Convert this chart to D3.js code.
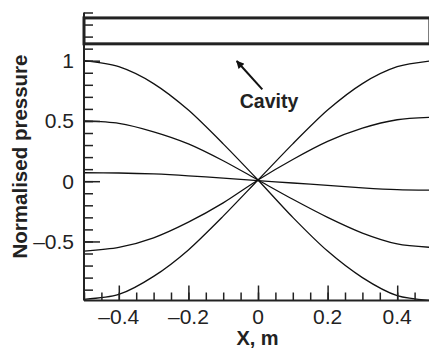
<!DOCTYPE html>
<html>
<head>
<meta charset="utf-8">
<script src="https://cdn.jsdelivr.net/npm/d3@7/dist/d3.min.js"></script>
<style>
html,body{margin:0;padding:0;background:#fff;}
svg{display:block;font-family:"Liberation Sans",Arial,Helvetica,sans-serif;}
</style>
</head>
<body>
<svg id="chart" width="429" height="349"></svg>
<script>
// ---- data ----
const xSamples = [-0.5, -0.4, -0.3, -0.2, -0.1, 0.0, 0.1, 0.2, 0.3, 0.4, 0.5];
const curveA = [1.00, 0.95, 0.81, 0.59, 0.31, 0.01, -0.30, -0.58, -0.80, -0.95, -0.99];
const curveB = [0.50, 0.48, 0.41, 0.31, 0.17, 0.01, -0.15, -0.30, -0.43, -0.52, -0.55];
const curveC = [0.070, 0.068, 0.060, 0.045, 0.025, 0.005, -0.015, -0.035, -0.055, -0.070, -0.075];
const curveD = [-0.58, -0.55, -0.47, -0.34, -0.18, 0.01, 0.18, 0.33, 0.44, 0.51, 0.53];
const curveE = [-0.98, -0.94, -0.79, -0.57, -0.29, 0.01, 0.31, 0.59, 0.81, 0.95, 1.00];
const seriesList = [curveA, curveB, curveC, curveD, curveE];

const xTickValues = [-0.4, -0.2, 0, 0.2, 0.4];
const xTickLabels = ["\u20130.4", "\u20130.2", "0", "0.2", "0.4"];
const yTickValues = [-0.5, 0, 0.5, 1];
const yTickLabels = ["\u20130.5", "0", "0.5", "1"];
const xDomain = [-0.5, 0.5];
const yDomain = [-0.99, 1.4];
const cavityBox = {x0: -0.5, x1: 0.494, y0: 1.14, y1: 1.355};
const xLabel = "X, m";
const yLabel = "Normalised pressure";
const annotation = "Cavity";

// ---- layout ----
const svg = d3.select("#chart");
const pLeft = 84, pBottom = 300.5, pTop = 12.5, pRight = 432;
const x = d3.scaleLinear().domain(xDomain).range([pLeft, pRight]);
const y = d3.scaleLinear().domain(yDomain).range([pBottom, pTop]);

const defs = svg.append("defs");
defs.append("clipPath").attr("id", "clip")
  .append("rect").attr("x", pLeft).attr("y", pTop).attr("width", pRight - pLeft).attr("height", pBottom - pTop);
const marker = defs.append("marker")
  .attr("id", "arrow").attr("viewBox", "0 0 10 10").attr("refX", 9).attr("refY", 5)
  .attr("markerWidth", 10).attr("markerHeight", 8).attr("markerUnits", "userSpaceOnUse")
  .attr("orient", "auto");
marker.append("path").attr("d", "M0,0 L10,5 L0,10 Z").attr("fill", "#111");

// curves
const line = d3.line().x((d, i) => x(xSamples[i])).y(d => y(d)).curve(d3.curveCardinal.tension(0.2));
const g = svg.append("g").attr("clip-path", "url(#clip)");
seriesList.forEach(s => {
  g.append("path").attr("d", line(s)).attr("fill", "none").attr("stroke", "#111").attr("stroke-width", 1.3);
});

// cavity box
svg.append("rect")
  .attr("x", x(cavityBox.x0)).attr("y", y(cavityBox.y1))
  .attr("width", x(cavityBox.x1) - x(cavityBox.x0))
  .attr("height", y(cavityBox.y0) - y(cavityBox.y1))
  .attr("fill", "none").attr("stroke", "#222").attr("stroke-width", 3);

// axes
const axisColor = "#222";
const xMinor = d3.range(-0.5, 0.5001, 0.05).map(v => +v.toFixed(2));
const yMinor = d3.range(-0.9, 1.4001, 0.1).map(v => +v.toFixed(2));
svg.append("g").attr("transform", `translate(0,${pBottom})`)
  .call(d3.axisBottom(x).tickValues(xMinor).tickSize(-8).tickFormat(""));
svg.append("g").attr("transform", `translate(0,${pBottom})`)
  .call(d3.axisBottom(x).tickValues(xTickValues).tickSize(-15).tickFormat(""));
svg.append("g").attr("transform", `translate(${pLeft},0)`)
  .call(d3.axisLeft(y).tickValues(yMinor).tickSize(-9).tickFormat(""));
svg.append("g").attr("transform", `translate(${pLeft},0)`)
  .call(d3.axisLeft(y).tickValues(yTickValues).tickSize(-16).tickFormat(""));
svg.selectAll(".domain").remove();
svg.selectAll(".tick line").attr("stroke", axisColor).attr("stroke-width", 1.5);
svg.append("line").attr("x1", pLeft).attr("x2", pRight).attr("y1", pBottom).attr("y2", pBottom)
  .attr("stroke", axisColor).attr("stroke-width", 2);
svg.append("line").attr("x1", pLeft).attr("x2", pLeft).attr("y1", pTop).attr("y2", pBottom)
  .attr("stroke", axisColor).attr("stroke-width", 2);

// tick labels
svg.append("g").selectAll("text").data(xTickValues).join("text")
  .attr("x", d => x(d)).attr("y", 324)
  .attr("text-anchor", "middle").attr("font-size", 21).attr("fill", "#222")
  .text((d, i) => xTickLabels[i]);
svg.append("g").selectAll("text").data(yTickValues).join("text")
  .attr("x", 74).attr("y", d => y(d) + 7.5)
  .attr("text-anchor", "end").attr("font-size", 21).attr("fill", "#222")
  .text((d, i) => yTickLabels[i]);

// axis titles
svg.append("text").attr("x", 257.5).attr("y", 345).attr("text-anchor", "middle")
  .attr("font-size", 20).attr("font-weight", "bold").attr("fill", "#222").text(xLabel);
svg.append("text").attr("transform", "translate(26.5,156.5) rotate(-90)").attr("text-anchor", "middle")
  .attr("font-size", 20.5).attr("font-weight", "bold").attr("fill", "#222").text(yLabel);

// annotation
svg.append("line").attr("x1", 262.3).attr("y1", 89.3).attr("x2", 236.7).attr("y2", 61)
  .attr("stroke", "#111").attr("stroke-width", 2).attr("marker-end", "url(#arrow)");
svg.append("text").attr("x", 269).attr("y", 108).attr("text-anchor", "middle")
  .attr("font-size", 19.5).attr("font-weight", "bold").attr("fill", "#222").text(annotation);
</script>
</body>
</html>
